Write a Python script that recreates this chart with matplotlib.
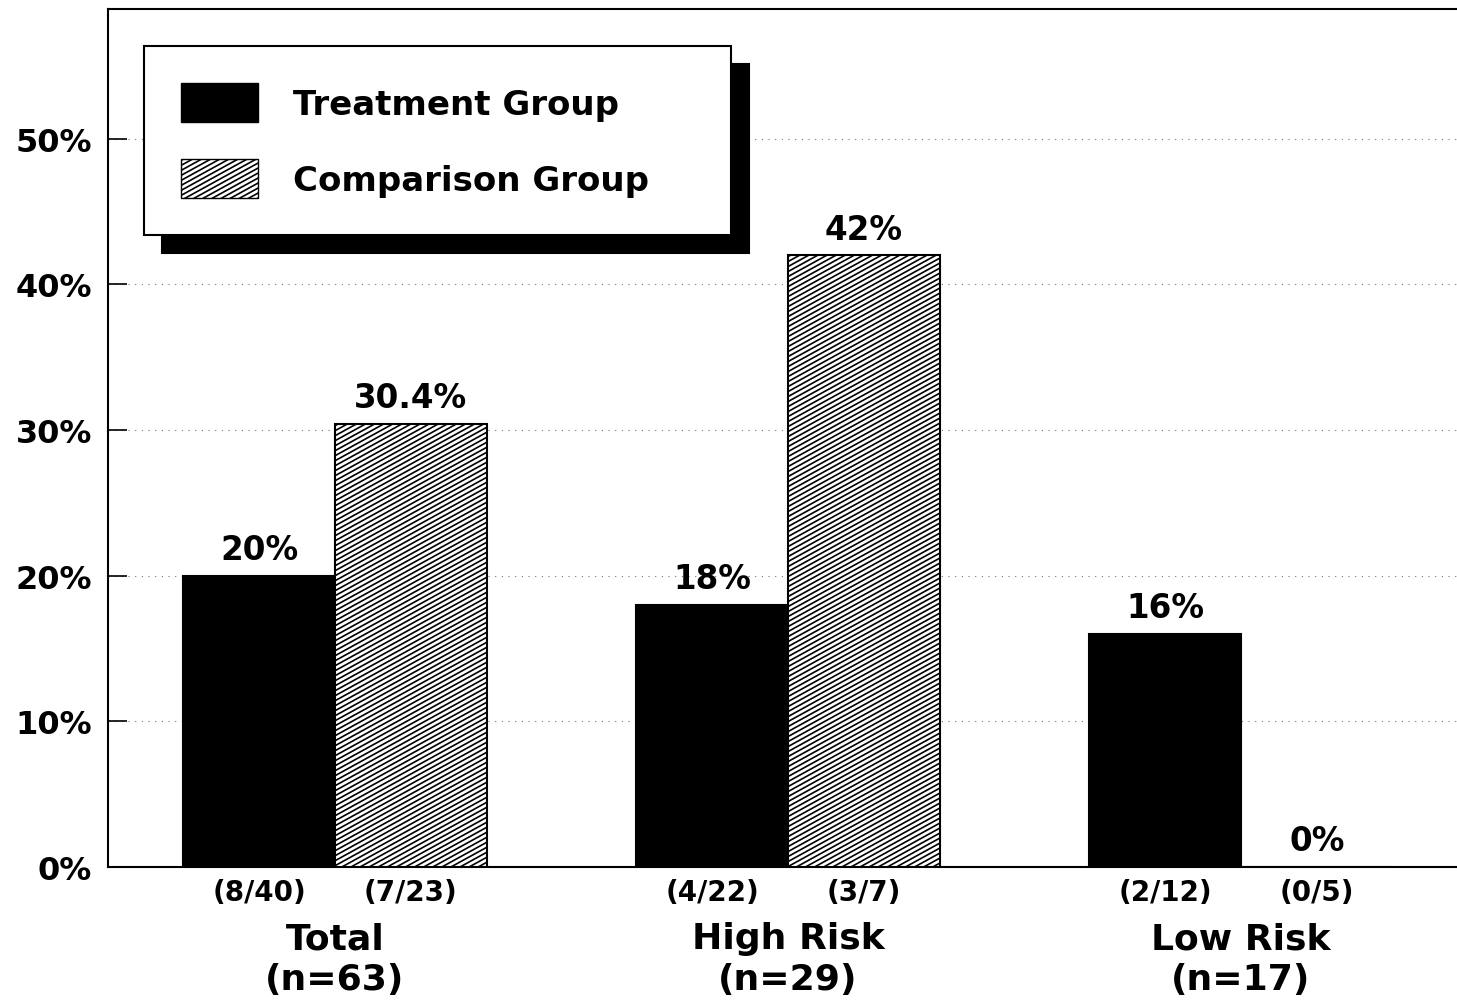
import numpy as np
import matplotlib.pyplot as plt
import matplotlib.hatch as mhatch
from matplotlib.patches import Patch
from matplotlib.path import Path

plt.rcParams['font.family'] = ['DejaVu Sans']
plt.rcParams['font.weight'] = 'bold'
plt.rcParams['hatch.linewidth'] = 1.2

# data
groups = ["Total", "High Risk", "Low Risk"]
group_n = ["(n=63)", "(n=29)", "(n=17)"]
treatment = [20, 18, 16]
comparison = [30.4, 42, 0]
treatment_labels = ["20%", "18%", "16%"]
comparison_labels = ["30.4%", "42%", "0%"]
treatment_counts = ["(8/40)", "(4/22)", "(2/12)"]
comparison_counts = ["(7/23)", "(3/7)", "(0/5)"]
yticks = [0, 10, 20, 30, 40, 50]


# the scanned chart uses a flatter, denser "/" hatch than matplotlib's 45 deg one
class ShallowHatch(mhatch.HatchPatternBase):
    slope = 0.55

    def __init__(self, hatch, density):
        n = hatch.count('/') * 20
        self.c = np.arange(-int(0.6 * n), n + 1) / n if n else np.empty(0)
        self.num_vertices = 2 * len(self.c)

    def set_vertices_and_codes(self, vertices, codes):
        x0, x1 = -0.05, 1.05
        vertices[0::2, 0] = x0
        vertices[0::2, 1] = self.c + self.slope * x0
        vertices[1::2, 0] = x1
        vertices[1::2, 1] = self.c + self.slope * x1
        codes[0::2] = Path.MOVETO
        codes[1::2] = Path.LINETO


mhatch._hatch_types = [ShallowHatch if h is mhatch.NorthEastHatch else h
                       for h in mhatch._hatch_types]

W, H = 1457, 1003
fig = plt.figure(figsize=(W / 100, H / 100), dpi=100)
ax = fig.add_axes([108 / W, 1 - 868 / H, 1 - 108 / W, 858 / H])

x = np.arange(len(groups))
w = 0.335
ax.bar(x - w / 2, treatment, w, color="black", edgecolor="black", lw=1.5, zorder=3)
ax.bar(x + w / 2, comparison, w, color="white", edgecolor="black", hatch="/", lw=1.5, zorder=3)

# value labels above bars
for xi, v, lab in zip(x - w / 2, treatment, treatment_labels):
    ax.annotate(lab, (xi, v), xytext=(0, 12), textcoords="offset points",
                ha="center", va="baseline", fontsize=23.5)
for xi, v, lab in zip(x + w / 2, comparison, comparison_labels):
    ax.annotate(lab, (xi, v), xytext=(0, 12), textcoords="offset points",
                ha="center", va="baseline", fontsize=23.5)

# counts under bars
for xi, lab in zip(x - w / 2, treatment_counts):
    ax.annotate(lab, (xi, 0), xytext=(0, -18), textcoords="offset points",
                ha="center", va="center", fontsize=20, annotation_clip=False)
for xi, lab in zip(x + w / 2, comparison_counts):
    ax.annotate(lab, (xi, 0), xytext=(0, -18), textcoords="offset points",
                ha="center", va="center", fontsize=20, annotation_clip=False)

# group names
for xi, g, n in zip(x, groups, group_n):
    ax.annotate(g + "\n" + n, (xi, 0), xytext=(0, -66), textcoords="offset points",
                ha="center", va="center", fontsize=26, linespacing=1.25,
                annotation_clip=False)

ax.set_xlim(-0.501, 2.477)
ax.set_ylim(0, 58.9)
ax.set_xticks([])
ax.set_yticks(yticks)
ax.set_yticklabels([f"{v}%" for v in yticks], fontsize=23)
ax.tick_params(axis="y", direction="in", length=14, width=1.2, pad=11.5)
ax.yaxis.grid(True, linestyle=(0, (1, 5)), color="0.45", lw=0.8, zorder=0)
ax.spines["right"].set_visible(False)
for s in ["left", "top", "bottom"]:
    ax.spines[s].set_linewidth(1.5)

handles = [Patch(facecolor="black", edgecolor="black"),
           Patch(facecolor="white", edgecolor="black", hatch="/")]
leg = ax.legend(handles, ["Treatment Group", "Comparison Group"],
                loc="upper left", mode="expand",
                bbox_to_anchor=(144 / W, 1 - 235 / H, 587 / W, 188 / H),
                bbox_transform=fig.transFigure, borderaxespad=0,
                fancybox=False, edgecolor="black", framealpha=1,
                shadow={"ox": 13, "oy": -13, "facecolor": "black",
                        "edgecolor": "black", "alpha": 1},
                prop=dict(size=24.5, weight="bold"),
                handlelength=2.26, handleheight=1.39, handletextpad=1.03,
                borderpad=1.09, labelspacing=1.09)
leg.get_frame().set_linewidth(1.5)
leg.set_zorder(5)

fig.savefig("out.png", dpi=100)
